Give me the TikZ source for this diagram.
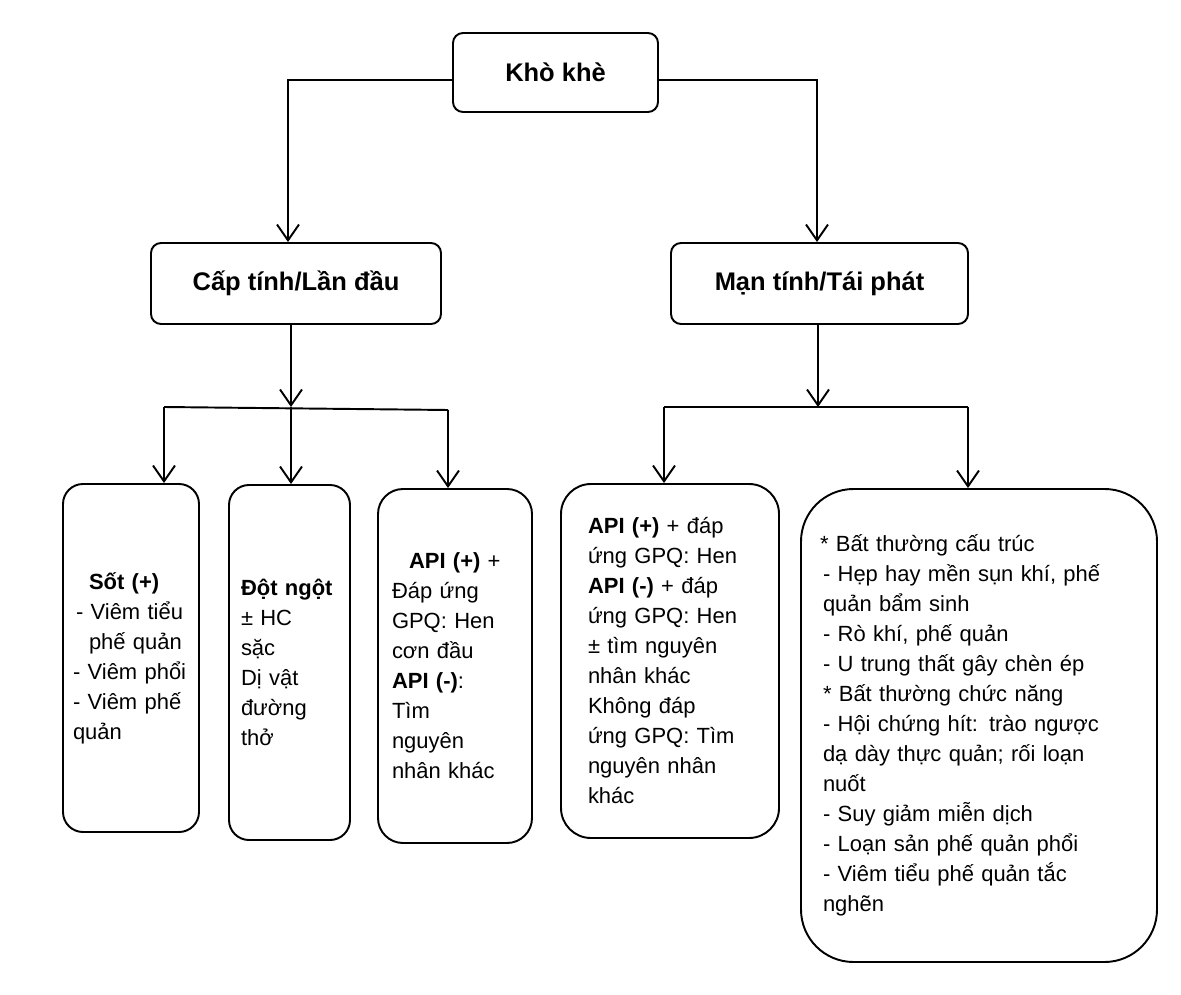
\documentclass[tikz,border=0pt]{standalone}
\usepackage{fontspec}
\setmainfont{Liberation Sans}
\usetikzlibrary{arrows.meta}

\tikzset{
  topbox/.style={draw, line width=1.1pt, rounded corners=0.2cm, inner sep=0pt,
    font=\fontsize{14.5}{17}\selectfont\bfseries},
  leafbox/.style={draw, line width=1.1pt, inner sep=0pt, align=left,
    font=\fontsize{12.5}{17.07}\selectfont},
  flow/.style={line width=1.1pt, -{Straight Barb[length=9pt,width=12.5pt]}},
  branch/.style={line width=1.1pt}
}

\begin{document}
\begin{tikzpicture}
\useasboundingbox (0,0) rectangle (23.62,-19.9);
\node [topbox, minimum width=4.1cm, minimum height=1.58cm] (kk) at (11.11,-1.45) {Khò khè};
\node [topbox, minimum width=5.8cm, minimum height=1.62cm] (cap) at (5.92,-5.67) {Cấp tính/Lần đầu};
\node [topbox, minimum width=5.94cm, minimum height=1.62cm] (man) at (16.39,-5.67) {Mạn tính/Tái phát};

\node [leafbox, rounded corners=0.4cm, minimum width=2.72cm, minimum height=6.96cm, text width=2.32cm] (sot) at (2.62,-13.16)
  {\hspace*{0.32cm}\textbf{Sốt (+)}\\ \hspace*{0.06cm}- Viêm tiểu\\ \hspace*{0.32cm}phế quản\\ - Viêm phổi\\ - Viêm phế\\ quản};
\node [leafbox, rounded corners=0.4cm, minimum width=2.42cm, minimum height=7.1cm, text width=1.94cm] (dot) at (5.79,-13.25)
  {\textbf{Đột ngột}\\ ± HC\\ sặc\\ Dị vật\\ đường\\ thở};
\node [leafbox, rounded corners=0.5cm, minimum width=3.08cm, minimum height=7.08cm, text width=2.52cm] (api) at (9.1,-13.32)
  {\hspace*{0.34cm}\textbf{API (+)} +\\ Đáp ứng\\ GPQ: Hen\\ cơn đầu\\ \textbf{API (-)}:\\ Tìm\\ nguyên\\ nhân khác};
\node [leafbox, rounded corners=0.6cm, minimum width=4.36cm, minimum height=7.08cm, text width=3.28cm] (hen) at (13.4,-13.22)
  {\textbf{API (+)} + đáp\\ ứng GPQ: Hen\\ \textbf{API (-)} + đáp\\ ứng GPQ: Hen\\ ± tìm nguyên\\ nhân khác\\ Không đáp\\ ứng GPQ: Tìm\\ nguyên nhân\\ khác};
\node [leafbox, rounded corners=1.05cm, minimum width=7.12cm, minimum height=9.46cm, text width=6.36cm] (bat) at (19.58,-14.51)
  {{*} Bất thường cấu trúc\\ \hspace*{0.06cm}- Hẹp hay mền sụn khí, phế\\ \hspace*{0.06cm}quản bẩm sinh\\ \hspace*{0.06cm}- Rò khí, phế quản\\ \hspace*{0.06cm}- U trung thất gây chèn ép\\
   \hspace*{0.06cm}{*} Bất thường chức năng\\ \hspace*{0.06cm}- Hội chứng hít: trào ngược\\ \hspace*{0.06cm}dạ dày thực quản; rối loạn\\ \hspace*{0.06cm}nuốt\\ \hspace*{0.06cm}- Suy giảm miễn dịch\\
   \hspace*{0.06cm}- Loạn sản phế quản phổi\\ \hspace*{0.06cm}- Viêm tiểu phế quản tắc\\ \hspace*{0.06cm}nghẽn};

\coordinate (jl) at (3.28,-8.14);
\coordinate (jm) at (5.82,-8.14);
\coordinate (jr) at (8.96,-8.2);
\coordinate (kl) at (13.28,-8.14);
\coordinate (km) at (16.36,-8.14);
\coordinate (kr) at (19.36,-8.14);

\draw [flow] ([yshift=-0.15cm]kk.west) -| ([xshift=-0.16cm]cap.north);
\draw [flow] ([yshift=-0.15cm]kk.east) -| ([xshift=-0.05cm]man.north);
\draw [flow] (cap.south -| jm) -- (jm);
\draw [flow] (man.south -| km) -- (km);
\draw [branch] (jl) -- (jr);
\draw [branch] (kl) -- (kr);
\draw [flow] (jl) -- (jl |- sot.north);
\draw [flow] (jm) -- (jm |- dot.north);
\draw [flow] (jr) -- (jr |- api.north);
\draw [flow] (kl) -- (kl |- hen.north);
\draw [flow] (kr) -- (kr |- bat.north);
\end{tikzpicture}
\end{document}
